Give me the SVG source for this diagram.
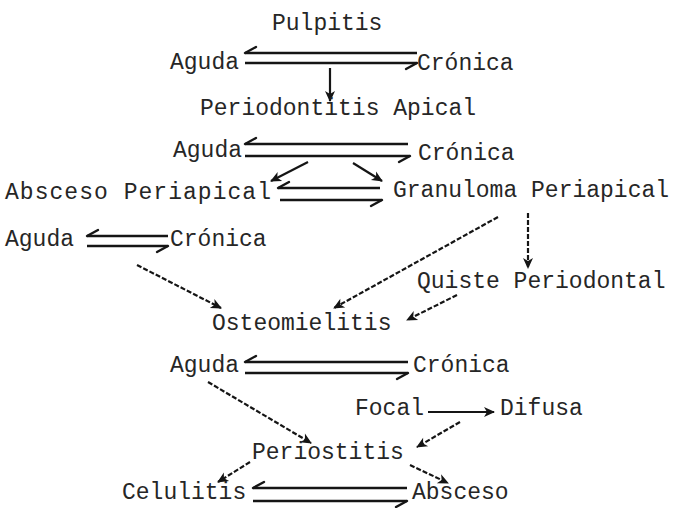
<svg xmlns="http://www.w3.org/2000/svg" width="675" height="508" viewBox="0 0 675 508">
<style>
text{font-family:"Liberation Mono","Courier New",monospace;font-size:23px;fill:#262626}
.h{stroke:#151515;stroke-width:2.4;fill:none;marker-end:url(#harp)}
.a{stroke:#151515;stroke-width:2.2;fill:none;marker-end:url(#arr)}
.d{stroke-dasharray:5 2}
</style>
<defs>
<marker id="harp" markerUnits="userSpaceOnUse" markerWidth="20" markerHeight="20" refX="0" refY="0" viewBox="-14 -10 20 20" orient="auto" overflow="visible">
<path d="M0,0 L-11,6" stroke="#151515" stroke-width="2.4" fill="none" stroke-linecap="round"/>
</marker>
<marker id="arr" markerUnits="userSpaceOnUse" markerWidth="14" markerHeight="14" refX="0" refY="0" viewBox="-12 -7 14 14" orient="auto" overflow="visible">
<path d="M1,0 L-10,-5 L-7,0 L-10,5 Z" fill="#151515"/>
</marker>
</defs>
<rect width="675" height="508" fill="#fff"/>
<g id="connectors">
<path class="h" d="M417,53 H245"/>
<path class="h" d="M245,63 H417"/>
<path class="a" d="M330,68 V101" stroke-width="2.8"/>
<path class="h" d="M408,144 H245"/>
<path class="h" d="M245,156 H410"/>
<path class="a" d="M308,162 L271,181"/>
<path class="a" d="M353,163 L382,181"/>
<path class="h" d="M380,188 H278"/>
<path class="h" d="M280,200 H382"/>
<path class="h" d="M168,236 H87"/>
<path class="h" d="M87,246 H168"/>
<path class="a d" d="M137,265 L221,308"/>
<path class="a d" d="M498,217 L334,308"/>
<path class="a d" d="M528,213 V268"/>
<path class="a d" d="M457,295 L407,320"/>
<path class="h" d="M408,362 H245"/>
<path class="h" d="M245,373 H408"/>
<path class="a d" d="M208,382 L311,443"/>
<path class="a" d="M428,412 H494"/>
<path class="a d" d="M460,422 L417,447"/>
<path class="a d" d="M250,462 L218,482"/>
<path class="a d" d="M410,465 L448,483"/>
<path class="h" d="M407,488 H253"/>
<path class="h" d="M253,501 H407"/>
</g>
<g id="pulpitis"><text x="272" y="30">Pulpitis</text></g>
<g id="pulpitis-aguda"><text x="170" y="69">Aguda</text></g>
<g id="pulpitis-cronica"><text x="417" y="70">Crónica</text></g>
<g id="periodontitis-apical"><text x="200" y="115">Periodontitis Apical</text></g>
<g id="periodontitis-aguda"><text x="173" y="157">Aguda</text></g>
<g id="periodontitis-cronica"><text x="418" y="160">Crónica</text></g>
<g id="absceso-periapical"><text x="5" y="199" textLength="266" lengthAdjust="spacing">Absceso Periapical</text></g>
<g id="granuloma-periapical"><text x="393" y="197">Granuloma Periapical</text></g>
<g id="absceso-aguda"><text x="5" y="246">Aguda</text></g>
<g id="absceso-cronica"><text x="170" y="246">Crónica</text></g>
<g id="quiste-periodontal"><text x="417" y="288">Quiste Periodontal</text></g>
<g id="osteomielitis"><text x="212" y="330">Osteomielitis</text></g>
<g id="osteo-aguda"><text x="170" y="372">Aguda</text></g>
<g id="osteo-cronica"><text x="413" y="372">Crónica</text></g>
<g id="focal"><text x="355" y="415">Focal</text></g>
<g id="difusa"><text x="500" y="415">Difusa</text></g>
<g id="periostitis"><text x="252" y="459">Periostitis</text></g>
<g id="celulitis"><text x="122" y="499">Celulitis</text></g>
<g id="absceso"><text x="412" y="499">Absceso</text></g>
</svg>
